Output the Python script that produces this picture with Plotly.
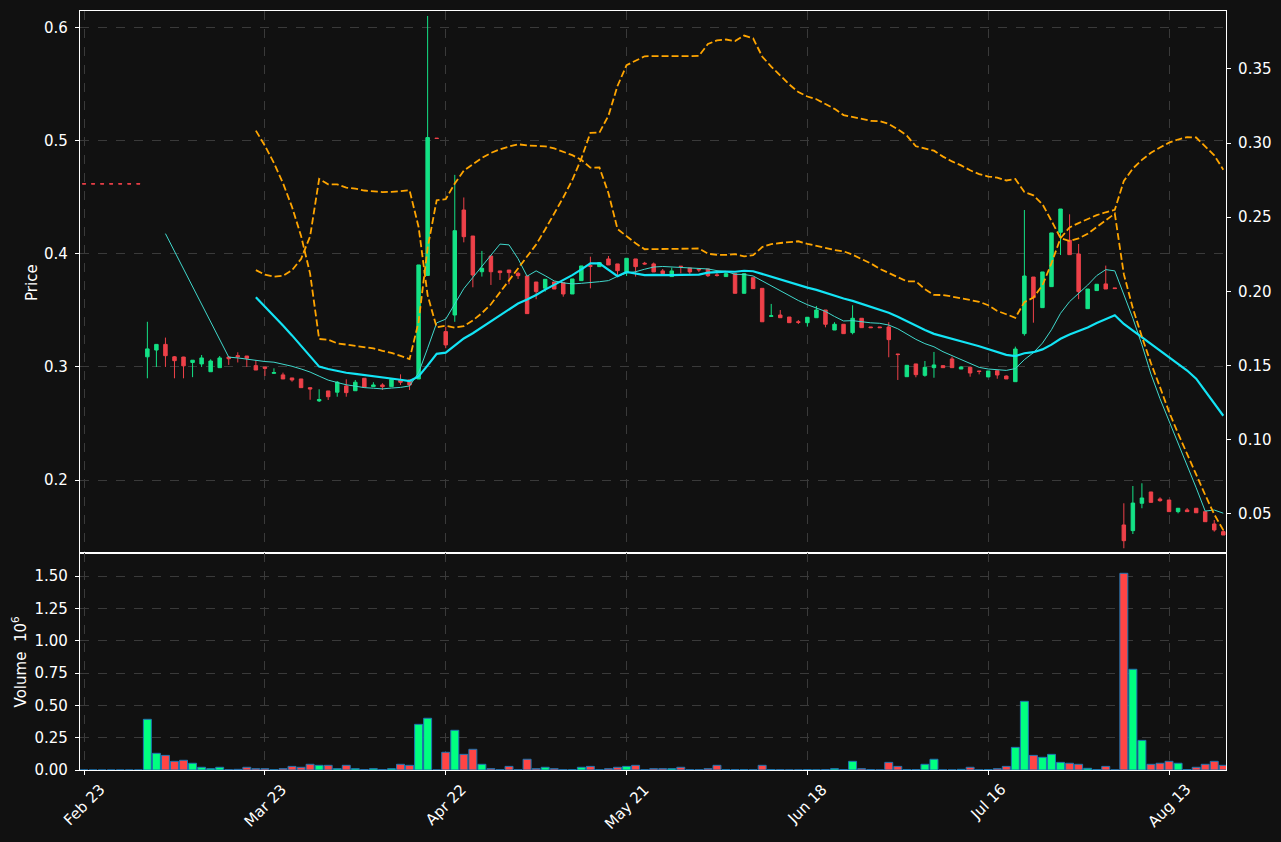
import pandas as pd
import plotly.graph_objects as go
from plotly.subplots import make_subplots

# ---------------- data ----------------
tick_labels = ["Feb 23", "Mar 23", "Apr 22", "May 21", "Jun 18", "Jul 16", "Aug 13"]
tick_index = [0, 20, 40, 60, 80, 100, 120]

opens = [0.4621, 0.4621, 0.4621, 0.4621, 0.4621, 0.4621, 0.4621,
         0.309, 0.315, 0.320, 0.309, 0.3088, 0.304, 0.3027, 0.2958, 0.2994, 0.3088,
         0.310, 0.3097, 0.3012, 0.300, 0.2944, 0.293, 0.2903, 0.2894, 0.2817, 0.2700,
         0.2788, 0.2777, 0.2832, 0.279, 0.290, 0.2826, 0.2841, 0.2826, 0.2885, 0.2885,
         0.2894, 0.381, 0.5025, 0.3313, 0.346, 0.4389, 0.4159, 0.3843, 0.3982, 0.385,
         0.3858, 0.3829, 0.3805, 0.3752, 0.3697, 0.3752, 0.3746, 0.3646, 0.3764, 0.3897,
         0.3888, 0.3956, 0.3912, 0.3843, 0.3956, 0.3918, 0.3912, 0.385, 0.380, 0.3892,
         0.3876, 0.3867, 0.3867, 0.3815, 0.380, 0.3826, 0.3652, 0.379, 0.3696, 0.3448,
         0.346, 0.3442, 0.340, 0.3392, 0.3436, 0.3504, 0.3327, 0.3378, 0.3304, 0.3431,
         0.3354, 0.3354, 0.3354, 0.3115, 0.2914, 0.3027, 0.2926, 0.2994, 0.3012, 0.3071,
         0.2982, 0.2997, 0.2965, 0.2912, 0.2967, 0.292, 0.287, 0.3295, 0.3796, 0.3525,
         0.3711, 0.4192, 0.4121, 0.400, 0.3516, 0.3676, 0.3735, 0.370, 0.1602, 0.1552,
         0.1794, 0.1894, 0.1832, 0.1823, 0.172, 0.1735, 0.175, 0.172, 0.1611, 0.1543]
highs = [0.4621, 0.4621, 0.4621, 0.4621, 0.4621, 0.4621, 0.4621,
         0.340, 0.320, 0.326, 0.3097, 0.309, 0.306, 0.3106, 0.3068, 0.3097, 0.3088,
         0.313, 0.3097, 0.306, 0.300, 0.2988, 0.295, 0.2903, 0.2894, 0.282, 0.2803,
         0.2788, 0.2876, 0.2891, 0.2885, 0.290, 0.2865, 0.2856, 0.2891, 0.2935, 0.2885,
         0.3903, 0.6106, 0.5025, 0.3357, 0.470, 0.450, 0.4159, 0.4027, 0.3982, 0.385,
         0.3858, 0.3843, 0.3805, 0.3752, 0.3776, 0.3752, 0.3746, 0.3779, 0.3894, 0.3976,
         0.3924, 0.3982, 0.3912, 0.3962, 0.3956, 0.393, 0.3924, 0.3867, 0.3879, 0.3892,
         0.3876, 0.3867, 0.3867, 0.3841, 0.3841, 0.3826, 0.3826, 0.379, 0.3696, 0.3558,
         0.3504, 0.3442, 0.3416, 0.344, 0.354, 0.3504, 0.3396, 0.3378, 0.3546, 0.3431,
         0.3354, 0.3354, 0.3396, 0.3115, 0.3015, 0.3027, 0.3053, 0.3133, 0.3012, 0.3091,
         0.3009, 0.2997, 0.2965, 0.2965, 0.2967, 0.2925, 0.318, 0.4389, 0.3796, 0.3841,
         0.4186, 0.4398, 0.4351, 0.4088, 0.369, 0.3732, 0.3897, 0.370, 0.1794, 0.1947,
         0.1971, 0.1894, 0.1847, 0.1823, 0.175, 0.1752, 0.175, 0.172, 0.1646, 0.1558]
lows = [0.462, 0.462, 0.462, 0.462, 0.462, 0.462, 0.462,
        0.290, 0.300, 0.300, 0.290, 0.290, 0.291, 0.300, 0.2958, 0.2994, 0.3018,
        0.304, 0.300, 0.2973, 0.292, 0.294, 0.2894, 0.287, 0.2817, 0.271, 0.269,
        0.2708, 0.2737, 0.2737, 0.279, 0.282, 0.2826, 0.2797, 0.2826, 0.2841, 0.2797,
        0.2894, 0.381, 0.5022, 0.3166, 0.340, 0.4103, 0.3705, 0.380, 0.3726, 0.377,
        0.3732, 0.3779, 0.3472, 0.360, 0.3667, 0.369, 0.3622, 0.3646, 0.3764, 0.3696,
        0.3888, 0.3903, 0.3814, 0.3805, 0.380, 0.3905, 0.3841, 0.3826, 0.380, 0.3829,
        0.3823, 0.3841, 0.3796, 0.380, 0.380, 0.3652, 0.3652, 0.3693, 0.340, 0.3448,
        0.3436, 0.3392, 0.338, 0.3357, 0.3436, 0.3351, 0.3327, 0.3295, 0.3289, 0.3348,
        0.3345, 0.3345, 0.3086, 0.2885, 0.2914, 0.2909, 0.2914, 0.2905, 0.2994, 0.2994,
        0.2982, 0.2914, 0.2935, 0.2912, 0.2896, 0.2894, 0.287, 0.3277, 0.3392, 0.3525,
        0.3711, 0.3991, 0.3994, 0.360, 0.3516, 0.3676, 0.369, 0.3694, 0.1396, 0.1522,
        0.175, 0.1802, 0.1808, 0.172, 0.1705, 0.172, 0.171, 0.1631, 0.1543, 0.1513]
closes = [0.462, 0.462, 0.462, 0.462, 0.462, 0.462, 0.462,
          0.316, 0.320, 0.310, 0.3056, 0.301, 0.306, 0.308, 0.3053, 0.308, 0.3073,
          0.309, 0.3077, 0.2973, 0.2988, 0.295, 0.2894, 0.2885, 0.2817, 0.2805, 0.2712,
          0.2737, 0.2865, 0.2773, 0.2865, 0.282, 0.2841, 0.2826, 0.2891, 0.2865, 0.2841,
          0.3903, 0.503, 0.5022, 0.3195, 0.4206, 0.4153, 0.3814, 0.3873, 0.3843, 0.3835,
          0.3835, 0.3808, 0.3472, 0.3667, 0.3776, 0.369, 0.3646, 0.3779, 0.3894, 0.3891,
          0.3924, 0.3903, 0.3852, 0.3962, 0.3888, 0.3912, 0.3841, 0.3826, 0.385, 0.3888,
          0.3841, 0.386, 0.3808, 0.381, 0.3826, 0.3652, 0.3826, 0.3693, 0.340, 0.3453,
          0.3436, 0.3392, 0.3395, 0.344, 0.3504, 0.3378, 0.3378, 0.3295, 0.3431, 0.3348,
          0.3348, 0.3348, 0.3242, 0.3110, 0.3015, 0.2932, 0.2997, 0.3018, 0.2994, 0.2994,
          0.300, 0.2947, 0.296, 0.2965, 0.2929, 0.2894, 0.3159, 0.3805, 0.3613, 0.3841,
          0.4186, 0.4398, 0.3994, 0.3667, 0.369, 0.3732, 0.369, 0.3694, 0.1463, 0.1796,
          0.1841, 0.1802, 0.1817, 0.172, 0.175, 0.172, 0.171, 0.1631, 0.1558, 0.1513]
volumes_m = [0, 0, 0, 0, 0, 0, 0,
             0.392, 0.129, 0.113, 0.067, 0.075, 0.052, 0.021, 0.010, 0.021, 0.002,
             0.005, 0.021, 0.010, 0.010, 0.002, 0.010, 0.028, 0.021, 0.044, 0.036,
             0.036, 0.010, 0.036, 0.010, 0.003, 0.010, 0.003, 0.010, 0.044, 0.036,
             0.353, 0.400, 0.0, 0.137, 0.307, 0.121, 0.160, 0.044, 0.010, 0.002,
             0.028, 0.002, 0.083, 0.010, 0.021, 0.010, 0.002, 0.002, 0.021, 0.028,
             0.002, 0.010, 0.021, 0.028, 0.036, 0.002, 0.010, 0.010, 0.010, 0.021,
             0.002, 0.002, 0.010, 0.036, 0.003, 0.003, 0.003, 0.002, 0.036, 0.003,
             0.002, 0.001, 0.001, 0.003, 0.001, 0.003, 0.010, 0.003, 0.067, 0.010,
             0.003, 0.001, 0.059, 0.028, 0.003, 0.003, 0.044, 0.083, 0.001, 0.001,
             0.005, 0.021, 0.001, 0.003, 0.010, 0.028, 0.175, 0.531, 0.113, 0.098,
             0.121, 0.059, 0.052, 0.044, 0.013, 0.003, 0.028, 0.001, 1.521, 0.779,
             0.229, 0.044, 0.052, 0.067, 0.052, 0.003, 0.021, 0.044, 0.067, 0.036]

# ---------------- derived indicators ----------------
idx = list(range(len(closes)))
close_s = pd.Series(closes)
ma10 = close_s.rolling(10).mean()
ma20 = close_s.rolling(20).mean()
sd20 = close_s.rolling(20).std(ddof=0)
upper = ma20 + 2 * sd20
lower = ma20 - 2 * sd20

UP = "#14e286"
DN = "#ee4149"
VUP = "#00ff80"
VDN = "#ff4545"
BG = "#111111"
GRID = "#3a3a3a"
FONT = "DejaVu Sans"

vol_colors = [VUP if c >= o else VDN for o, c in zip(opens, closes)]

fig = make_subplots(rows=2, cols=1, shared_xaxes=True, vertical_spacing=0,
                    specs=[[{"secondary_y": True}], [{"secondary_y": False}]])

fig.add_trace(go.Candlestick(
    x=idx, open=opens, high=highs, low=lows, close=closes,
    increasing=dict(line=dict(color=UP, width=1), fillcolor=UP),
    decreasing=dict(line=dict(color=DN, width=1), fillcolor=DN),
    whiskerwidth=0, showlegend=False, hoverinfo="skip"), row=1, col=1, secondary_y=False)

fig.add_trace(go.Scatter(x=idx, y=ma10, mode="lines", line=dict(color="#40d8cc", width=1),
                         showlegend=False), row=1, col=1, secondary_y=False)
fig.add_trace(go.Scatter(x=idx, y=ma20, mode="lines", line=dict(color="#13e4f5", width=2.2),
                         showlegend=False), row=1, col=1, secondary_y=False)
fig.add_trace(go.Scatter(x=idx, y=upper, mode="lines",
                         line=dict(color="#FFA500", width=1.8, dash="7px,3px"),
                         showlegend=False), row=1, col=1, secondary_y=False)
fig.add_trace(go.Scatter(x=idx, y=lower, mode="lines",
                         line=dict(color="#FFA500", width=1.8, dash="7px,3px"),
                         showlegend=False), row=1, col=1, secondary_y=True)

fig.add_trace(go.Bar(x=idx, y=volumes_m, width=0.88,
                     marker=dict(color=vol_colors, line=dict(color="#1f77b4", width=1)),
                     showlegend=False), row=2, col=1)

axis_common = dict(showline=True, linecolor="white", linewidth=1.2, automargin=False,
                   tickfont=dict(family=FONT, size=15, color="white"),
                   tickcolor="white", ticklen=4, tickwidth=1.2)

fig.update_xaxes(range=[-0.45, 126.3], rangeslider_visible=False, domain=[0.0, 1.0],
                 showgrid=True, gridcolor=GRID, griddash="dash", gridwidth=1,
                 zeroline=False, tickvals=tick_index, ticktext=tick_labels, **axis_common)
fig.update_xaxes(showticklabels=False, ticks="", mirror=True, row=1, col=1)
fig.update_xaxes(ticks="outside", mirror=True, showticklabels=False, row=2, col=1)

# date labels, rotated 45 degrees and centred under their ticks
for pos, lab in zip(tick_index, tick_labels):
    fig.add_annotation(text=lab, x=pos, xref="x2", y=-0.0105, yref="paper",
                       textangle=-45, showarrow=False, xanchor="center", yanchor="top",
                       font=dict(family=FONT, size=15, color="white"))

fig.update_yaxes(range=[0.1354, 0.615], tickvals=[0.2, 0.3, 0.4, 0.5, 0.6], tickformat=".1f",
                 showgrid=True, gridcolor=GRID, griddash="dash", zeroline=False,
                 ticks="outside", ticklabelstandoff=4, domain=[0.2859, 1.0],
                 row=1, col=1, secondary_y=False, **axis_common)
fig.update_yaxes(range=[0.0237, 0.389], tickvals=[0.05, 0.10, 0.15, 0.20, 0.25, 0.30, 0.35],
                 tickformat=".2f", showgrid=False, zeroline=False, ticks="outside",
                 ticklabelstandoff=4, row=1, col=1, secondary_y=True, **axis_common)
fig.update_yaxes(range=[0, 1.678], tickvals=[0, 0.25, 0.5, 0.75, 1.0, 1.25, 1.5],
                 tickformat=".2f", showgrid=True, gridcolor=GRID, griddash="dash",
                 zeroline=False, ticks="outside", mirror=True, ticklabelstandoff=4,
                 domain=[0.0, 0.2859], row=2, col=1, **axis_common)

fig.add_annotation(text="Price", x=-0.0419, y=0.643, xref="paper", yref="paper",
                   textangle=-90, showarrow=False, xanchor="center", yanchor="middle",
                   font=dict(family=FONT, size=15, color="white"))
fig.add_annotation(text="Volume  10<sup>6</sup>", x=-0.0524, y=0.143, xref="paper", yref="paper",
                   textangle=-90, showarrow=False, xanchor="center", yanchor="middle",
                   font=dict(family=FONT, size=15, color="white"))

fig.update_layout(width=1281, height=842, paper_bgcolor=BG, plot_bgcolor=BG,
                  margin=dict(l=80, r=55, t=11, b=72), boxgap=0.45, bargap=0.1,
                  font=dict(family=FONT, color="white", size=15), showlegend=False)

fig.write_html("out.html", config={"displayModeBar": False},
               post_script="document.body.style.margin='0';")
